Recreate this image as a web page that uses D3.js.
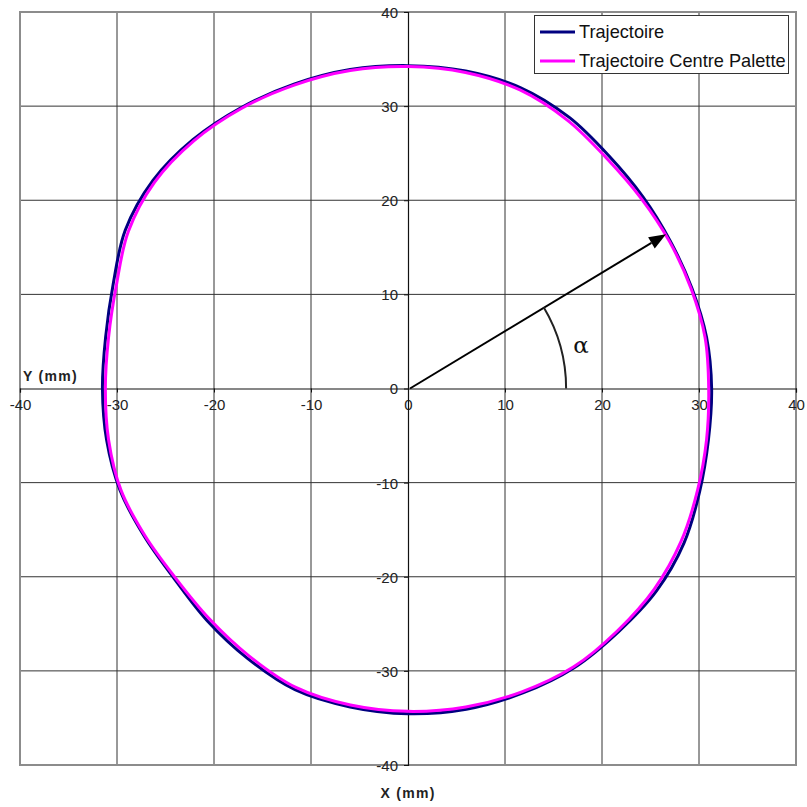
<!DOCTYPE html>
<html>
<head>
<meta charset="utf-8">
<script src="https://cdn.jsdelivr.net/npm/d3@7"></script>
<style>
  html, body { margin: 0; padding: 0; background: #fff; }
  svg { display: block; font-family: "Liberation Sans", Arial, sans-serif; }
</style>
</head>
<body>
<svg id="chart" width="807" height="807"></svg>
<script>
// Tick values shared by both axes (mm)
const xTicks = [-40, -30, -20, -10, 0, 10, 20, 30, 40];
const yTicks = [-40, -30, -20, -10, 0, 10, 20, 30, 40];

// Series names
const seriesNames = ["Trajectoire", "Trajectoire Centre Palette"];

// Trajectoire (mm): closed loop, counter-clockwise from +X, one point every 10°
const trajX = [31.30, 30.78, 29.27, 27.06, 24.24, 20.73, 16.63, 11.63, 5.95, 0,
  -5.97, -11.76, -17.23, -22.18, -26.31, -29.14, -30.40, -31.17, -31.50,
  -31.07, -29.69, -27.19, -24.09, -20.70, -16.55, -11.65, -5.96, 0,
  6.01, 11.78, 17.13, 21.69, 25.62, 28.45, 30.07, 30.97];
const trajY = [0, 5.43, 10.65, 15.63, 20.34, 24.70, 28.80, 31.95, 33.73, 34.30,
  33.88, 32.33, 29.83, 26.43, 22.08, 16.83, 11.06, 5.49, 0,
  -5.48, -10.81, -15.70, -20.22, -24.67, -28.67, -32.00, -33.83, -34.55,
  -34.07, -32.37, -29.66, -25.85, -21.50, -16.43, -10.94, -5.46];

// Trajectoire Centre Palette (mm), same sampling
const centreX = [31.00, 30.63, 29.18, 26.98, 24.05, 20.50, 16.45, 11.54, 5.92, 0,
  -5.96, -11.73, -17.18, -22.08, -26.12, -28.84, -30.07, -30.87, -31.20,
  -30.87, -29.60, -27.11, -23.98, -20.51, -16.40, -11.56, -5.93, 0,
  5.96, 11.73, 17.08, 21.60, 25.39, 28.15, 29.84, 30.78];
const centreY = [0, 5.40, 10.62, 15.58, 20.18, 24.44, 28.49, 31.72, 33.58, 34.20,
  33.78, 32.23, 29.75, 26.31, 21.92, 16.65, 10.94, 5.44, 0,
  -5.44, -10.77, -15.65, -20.12, -24.44, -28.40, -31.76, -33.63, -34.30,
  -33.83, -32.23, -29.57, -25.74, -21.31, -16.25, -10.86, -5.43];

// Radius vector to a point of the path, and radius of the angle arc (mm)
const vectorEnd = [26.6, 16.4];
const arcRadius = 16.3;

const svg = d3.select("#chart");
const plotLeft = 20, plotRight = 796, plotTop = 12, plotBottom = 765;

const x = d3.scaleLinear().domain([-40, 40]).range([plotLeft, plotRight]);
const y = d3.scaleLinear().domain([-40, 40]).range([plotBottom, plotTop]);

// Grid
const grid = svg.append("g");
grid.selectAll("line.vx").data(xTicks.filter(d => d !== 0 && Math.abs(d) !== 40)).join("line")
  .attr("x1", d => x(d)).attr("x2", d => x(d)).attr("y1", plotTop).attr("y2", plotBottom)
  .attr("stroke", "#333").attr("stroke-width", 1);
grid.selectAll("line.hy").data(yTicks.filter(d => d !== 0 && Math.abs(d) !== 40)).join("line")
  .attr("y1", d => y(d)).attr("y2", d => y(d)).attr("x1", plotLeft).attr("x2", plotRight)
  .attr("stroke", "#333").attr("stroke-width", 1);

// Plot border
svg.append("rect").attr("x", plotLeft).attr("y", plotTop)
  .attr("width", plotRight - plotLeft).attr("height", plotBottom - plotTop)
  .attr("fill", "none").attr("stroke", "#8c8c8c").attr("stroke-width", 2);

// Axes through the origin
const fmt = d => String(d);
const xAxis = d3.axisBottom(x).tickValues(xTicks).tickFormat(fmt).tickSize(4).tickPadding(7);
const gx = svg.append("g").attr("transform", `translate(0,${y(0)})`).call(xAxis);
const yAxis = d3.axisLeft(y).tickValues(yTicks).tickFormat(fmt).tickSize(4).tickPadding(6);
const gy = svg.append("g").attr("transform", `translate(${x(0)},0)`).call(yAxis);
[gx, gy].forEach(g => {
  g.select(".domain").attr("stroke", "#111").attr("stroke-width", 1.2);
  g.selectAll(".tick line").attr("stroke", "#111");
  g.selectAll(".tick text").attr("fill", "#222")
    .style("font-family", "'Liberation Sans', Arial, sans-serif").style("font-size", "15px");
});
gy.selectAll(".tick text").attr("dy", "0.36em");

// Axis titles
svg.append("text").attr("x", 23).attr("y", 381)
  .attr("font-size", 14).attr("font-weight", "bold").attr("letter-spacing", 1.3)
  .attr("fill", "#222").text("Y (mm)");
svg.append("text").attr("x", x(0)).attr("y", 798).attr("text-anchor", "middle")
  .attr("font-size", 14).attr("font-weight", "bold").attr("letter-spacing", 1.3)
  .attr("fill", "#222").text("X (mm)");

// Trajectories
const line = d3.line().x(d => x(d[0])).y(d => y(d[1])).curve(d3.curveCatmullRomClosed.alpha(0.5));
const trajPts = trajX.map((v, i) => [v, trajY[i]]);
const centrePts = centreX.map((v, i) => [v, centreY[i]]);
const colors = ["#000080", "#ff00ff"];
svg.append("path").datum(trajPts).attr("d", line)
  .attr("fill", "none").attr("stroke", colors[0]).attr("stroke-width", 3);
svg.append("path").datum(centrePts).attr("d", line)
  .attr("fill", "none").attr("stroke", colors[1]).attr("stroke-width", 3);

// Radius vector with arrow head
const x0 = x(0), y0 = y(0);
const x1 = x(vectorEnd[0]), y1 = y(vectorEnd[1]);
const ang = Math.atan2(y0 - y1, x1 - x0);
const headLen = 17, headHalf = 6.5;
const bx = x1 - headLen * Math.cos(ang), by = y1 + headLen * Math.sin(ang);
svg.append("line").attr("x1", x0 + 2).attr("y1", y0).attr("x2", bx).attr("y2", by)
  .attr("stroke", "#000").attr("stroke-width", 2);
svg.append("path")
  .attr("d", `M${x1},${y1} L${bx + headHalf * Math.sin(ang)},${by + headHalf * Math.cos(ang)} L${bx - headHalf * Math.sin(ang)},${by - headHalf * Math.cos(ang)} Z`)
  .attr("fill", "#000");

// Angle arc between the X axis and the radius vector
const rPx = x(arcRadius) - x(0);
const arc = d3.arc().innerRadius(rPx).outerRadius(rPx)
  .startAngle(Math.PI / 2 - ang).endAngle(Math.PI / 2);
svg.append("path").attr("d", arc()).attr("transform", `translate(${x0},${y0})`)
  .attr("fill", "none").attr("stroke", "#222").attr("stroke-width", 2);
svg.append("text").attr("x", 581).attr("y", 353).attr("text-anchor", "middle")
  .attr("font-family", "'DejaVu Serif', 'Liberation Serif', serif").attr("font-size", 23)
  .attr("fill", "#111").text("α");

// Legend
const lg = svg.append("g");
lg.append("rect").attr("x", 534.5).attr("y", 15.5).attr("width", 254).attr("height", 58)
  .attr("fill", "#fff").attr("stroke", "#333").attr("stroke-width", 1);
const rows = [32, 61];
seriesNames.forEach((name, i) => {
  lg.append("line").attr("x1", 540).attr("x2", 575).attr("y1", rows[i]).attr("y2", rows[i])
    .attr("stroke", colors[i]).attr("stroke-width", 3);
  lg.append("text").attr("x", 579).attr("y", rows[i] + 5.5).attr("font-size", 18.2)
    .attr("fill", "#111").text(name);
});
</script>
</body>
</html>
